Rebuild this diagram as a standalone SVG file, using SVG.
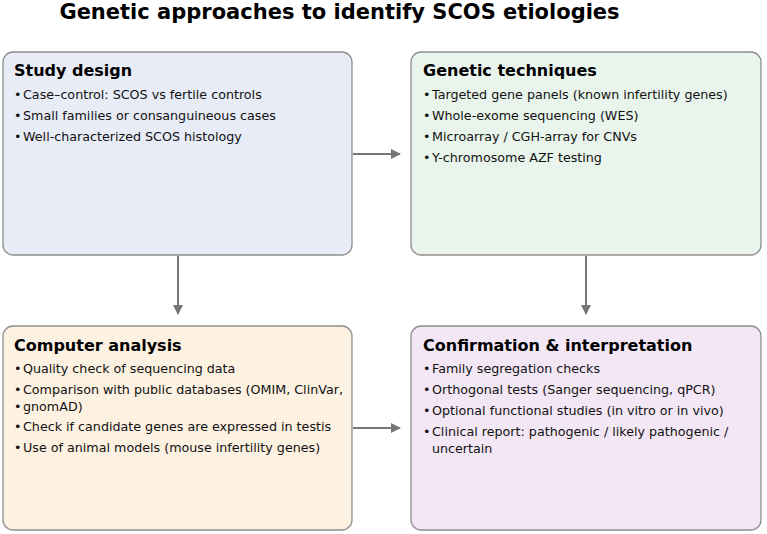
<svg xmlns="http://www.w3.org/2000/svg" width="767" height="534" viewBox="0 0 767 534">
<defs>
<marker id="ah" markerWidth="10" markerHeight="10" refX="9" refY="5" orient="auto" markerUnits="userSpaceOnUse">
<path d="M0,0 L10,5 L0,10 Z" fill="#777"/>
</marker>
<style>
.box{stroke:#8e8e8e;stroke-width:1.3}
.title{font-family:"DejaVu Sans",sans-serif;font-weight:bold;font-size:21px;fill:#000}
.hdr{font-family:"DejaVu Sans",sans-serif;font-weight:bold;font-size:16px;fill:#000}
.itm{font-family:"DejaVu Sans",sans-serif;font-size:12.7px;fill:#111}
.conn{stroke:#777;stroke-width:2;fill:none}
</style>
</defs>
<rect width="767" height="534" fill="#fff"/>
<text class="title" x="339.5" y="19" text-anchor="middle">Genetic approaches to identify SCOS etiologies</text>
<g id="study-design">
<rect class="box" x="3" y="52" width="349" height="203" rx="10" fill="#e8ecf6"/>
<text class="hdr" x="14" y="76">Study design</text>
<text class="itm" y="99"><tspan x="14">•</tspan><tspan x="23">Case–control: SCOS vs fertile controls</tspan></text>
<text class="itm" y="120"><tspan x="14">•</tspan><tspan x="23">Small families or consanguineous cases</tspan></text>
<text class="itm" y="141"><tspan x="14">•</tspan><tspan x="23">Well-characterized SCOS histology</tspan></text>
</g>
<g id="genetic-techniques">
<rect class="box" x="411" y="52" width="350" height="203" rx="10" fill="#e9f5ec"/>
<text class="hdr" x="423" y="76">Genetic techniques</text>
<text class="itm" y="99"><tspan x="423">•</tspan><tspan x="432">Targeted gene panels (known infertility genes)</tspan></text>
<text class="itm" y="120"><tspan x="423">•</tspan><tspan x="432">Whole-exome sequencing (WES)</tspan></text>
<text class="itm" y="141"><tspan x="423">•</tspan><tspan x="432">Microarray / CGH-array for CNVs</tspan></text>
<text class="itm" y="162"><tspan x="423">•</tspan><tspan x="432">Y-chromosome AZF testing</tspan></text>
</g>
<g id="computer-analysis">
<rect class="box" x="3" y="326" width="349" height="204" rx="10" fill="#fdf1e2"/>
<text class="hdr" x="14" y="351">Computer analysis</text>
<text class="itm" y="373"><tspan x="14">•</tspan><tspan x="23">Quality check of sequencing data</tspan></text>
<text class="itm" y="394"><tspan x="14">•</tspan><tspan x="23">Comparison with public databases (OMIM, ClinVar,</tspan></text>
<text class="itm" y="411"><tspan x="14">•</tspan><tspan x="23">gnomAD)</tspan></text>
<text class="itm" y="431"><tspan x="14">•</tspan><tspan x="23">Check if candidate genes are expressed in testis</tspan></text>
<text class="itm" y="452"><tspan x="14">•</tspan><tspan x="23">Use of animal models (mouse infertility genes)</tspan></text>
</g>
<g id="confirmation">
<rect class="box" x="411" y="326" width="350" height="204" rx="10" fill="#f3e7f5"/>
<text class="hdr" x="423" y="351">Confirmation &amp; interpretation</text>
<text class="itm" y="373"><tspan x="423">•</tspan><tspan x="432">Family segregation checks</tspan></text>
<text class="itm" y="394"><tspan x="423">•</tspan><tspan x="432">Orthogonal tests (Sanger sequencing, qPCR)</tspan></text>
<text class="itm" y="415"><tspan x="423">•</tspan><tspan x="432">Optional functional studies (in vitro or in vivo)</tspan></text>
<text class="itm" y="436"><tspan x="423">•</tspan><tspan x="432">Clinical report: pathogenic / likely pathogenic /</tspan></text>
<text class="itm" x="432" y="453">uncertain</text>
</g>
<g id="connectors">
<line class="conn" x1="353" y1="154" x2="400" y2="154" marker-end="url(#ah)"/>
<line class="conn" x1="178" y1="256" x2="178" y2="314" marker-end="url(#ah)"/>
<line class="conn" x1="586" y1="256" x2="586" y2="314" marker-end="url(#ah)"/>
<line class="conn" x1="353" y1="428" x2="400" y2="428" marker-end="url(#ah)"/>
</g>
</svg>
